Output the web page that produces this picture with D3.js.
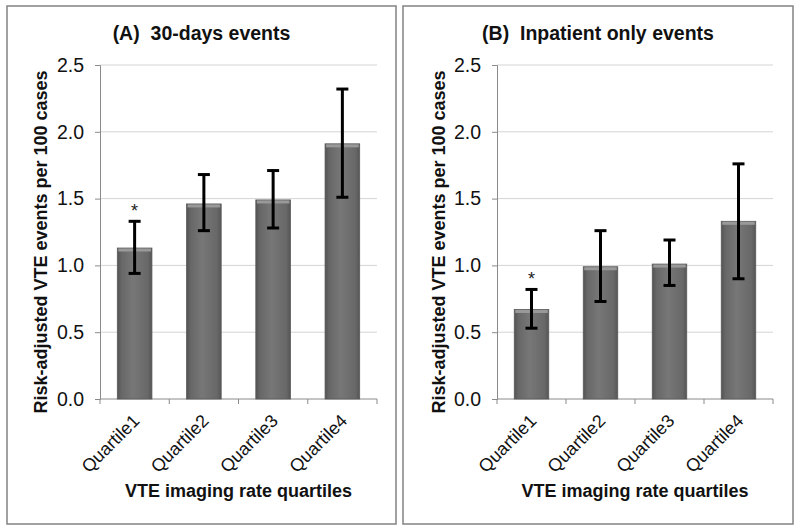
<!DOCTYPE html>
<html>
<head>
<meta charset="utf-8">
<script src="https://cdn.jsdelivr.net/npm/d3@7"></script>
<style>
  html, body { margin: 0; padding: 0; background: #fff; }
  svg { display: block; font-family: "Liberation Sans", Arial, sans-serif; }
</style>
</head>
<body>
<svg id="chart" width="800" height="532"></svg>
<script>
// ---- data ----
const categories = ["Quartile1", "Quartile2", "Quartile3", "Quartile4"];
const panelTitles = ["(A)\u00A0\u00A030-days events", "(B)\u00A0\u00A0Inpatient only events"];
const valuesA = [1.13, 1.46, 1.49, 1.91];
const lowerA  = [0.94, 1.26, 1.28, 1.51];
const upperA  = [1.33, 1.68, 1.71, 2.32];
const valuesB = [0.67, 0.99, 1.01, 1.33];
const lowerB  = [0.53, 0.73, 0.85, 0.90];
const upperB  = [0.82, 1.26, 1.19, 1.76];
const significant = [true, false, false, false];
const yTicks = [0, 0.5, 1.0, 1.5, 2.0, 2.5];
const yTitle = "Risk-adjusted VTE events per 100 cases";
const xTitle = "VTE imaging rate quartiles";

const svg = d3.select("#chart");

const defs = svg.append("defs");
const grad = defs.append("linearGradient").attr("id", "barGrad")
  .attr("x1", "0%").attr("x2", "100%").attr("y1", "0%").attr("y2", "0%");
[["0%", "#535353"], ["12%", "#676767"], ["45%", "#777777"], ["88%", "#686868"], ["100%", "#555555"]]
  .forEach(([o, c]) => grad.append("stop").attr("offset", o).attr("stop-color", c));

const panels = [
  { box: [7, 6, 396, 524], plot: [100, 377], title: panelTitles[0], vals: valuesA, lo: lowerA, hi: upperA, yTitleX: 41 },
  { box: [403, 6, 793, 524], plot: [497, 773], title: panelTitles[1], vals: valuesB, lo: lowerB, hi: upperB, yTitleX: 439 }
];

const yTop = 65, yBottom = 399;

panels.forEach(p => {
  const g = svg.append("g");
  // panel border
  g.append("rect")
    .attr("x", p.box[0]).attr("y", p.box[1])
    .attr("width", p.box[2] - p.box[0]).attr("height", p.box[3] - p.box[1])
    .attr("fill", "none").attr("stroke", "#8a8a8a").attr("stroke-width", 1.6);

  const x = d3.scaleBand().domain(categories).range(p.plot).paddingInner(0.5).paddingOuter(0.25);
  const y = d3.scaleLinear().domain([0, 2.5]).range([yBottom, yTop]);

  // gridlines
  g.append("g").selectAll("line").data(yTicks.filter(t => t > 0)).join("line")
    .attr("x1", p.plot[0]).attr("x2", p.plot[1])
    .attr("y1", d => y(d)).attr("y2", d => y(d))
    .attr("stroke", "#d4d4d4").attr("stroke-width", 1);

  // y axis
  const yAxis = g.append("g").attr("transform", `translate(${p.plot[0]},0)`)
    .call(d3.axisLeft(y).tickValues(yTicks).tickFormat(d3.format(".1f")).tickSize(5).tickPadding(11));
  yAxis.select(".domain").attr("stroke", "#8a8a8a");
  yAxis.selectAll(".tick line").attr("stroke", "#8a8a8a");
  yAxis.selectAll(".tick text").attr("font-size", 19.5).attr("fill", "#111")
    .attr("font-family", "'Liberation Sans', Arial, sans-serif");

  // x axis line + boundary ticks
  g.append("line").attr("x1", p.plot[0]).attr("x2", p.plot[1])
    .attr("y1", yBottom).attr("y2", yBottom).attr("stroke", "#8a8a8a");
  const bounds = categories.map(c => x(c) - x.step() * 0.25).concat([p.plot[1]]);
  g.append("g").selectAll("line").data(bounds).join("line")
    .attr("x1", d => d).attr("x2", d => d)
    .attr("y1", yBottom).attr("y2", yBottom + 5)
    .attr("stroke", "#8a8a8a");

  // bars
  g.append("g").selectAll("rect").data(p.vals).join("rect")
    .attr("x", (d, i) => x(categories[i]))
    .attr("y", d => y(d))
    .attr("width", x.bandwidth())
    .attr("height", d => yBottom - y(d))
    .attr("fill", "url(#barGrad)")
    .attr("stroke", "#5a5a5a").attr("stroke-width", 0.8);
  // top bevel highlight
  g.append("g").selectAll("rect").data(p.vals).join("rect")
    .attr("x", (d, i) => x(categories[i]) + 1)
    .attr("y", d => y(d) + 0.5)
    .attr("width", x.bandwidth() - 2)
    .attr("height", 3)
    .attr("fill", "#999999");

  // error bars
  const eb = g.append("g").attr("stroke", "#000").attr("stroke-width", 3);
  p.vals.forEach((v, i) => {
    const cx = x(categories[i]) + x.bandwidth() / 2;
    eb.append("line").attr("x1", cx).attr("x2", cx).attr("y1", y(p.lo[i])).attr("y2", y(p.hi[i]));
    eb.append("line").attr("x1", cx - 6).attr("x2", cx + 6).attr("y1", y(p.hi[i])).attr("y2", y(p.hi[i]));
    eb.append("line").attr("x1", cx - 6).attr("x2", cx + 6).attr("y1", y(p.lo[i])).attr("y2", y(p.lo[i]));
    if (significant[i]) {
      g.append("text").attr("x", cx).attr("y", y(p.hi[i]) - 4)
        .attr("text-anchor", "middle").attr("font-size", 18).attr("fill", "#222").text("*");
    }
  });

  // x tick labels
  g.append("g").selectAll("text").data(categories).join("text")
    .attr("transform", d => `translate(${x(d) + x.bandwidth() / 2 + 6},${yBottom + 23}) rotate(-45)`)
    .attr("text-anchor", "end")
    .attr("font-size", 18).attr("fill", "#111")
    .text(d => d);

  // title
  g.append("text").attr("x", (p.box[0] + p.box[2]) / 2).attr("y", 40)
    .attr("text-anchor", "middle").attr("font-size", 19.5).attr("font-weight", "bold").attr("fill", "#111")
    .text(p.title);

  // x title
  g.append("text").attr("x", (p.plot[0] + p.plot[1]) / 2).attr("y", 497)
    .attr("text-anchor", "middle").attr("font-size", 18).attr("font-weight", "bold").attr("fill", "#111")
    .text(xTitle);

  // y title
  g.append("text")
    .attr("transform", `translate(${p.yTitleX},242) rotate(-90)`)
    .attr("text-anchor", "middle").attr("dominant-baseline", "central")
    .attr("font-size", 18).attr("font-weight", "bold").attr("fill", "#111")
    .text(yTitle);
});
</script>
</body>
</html>
